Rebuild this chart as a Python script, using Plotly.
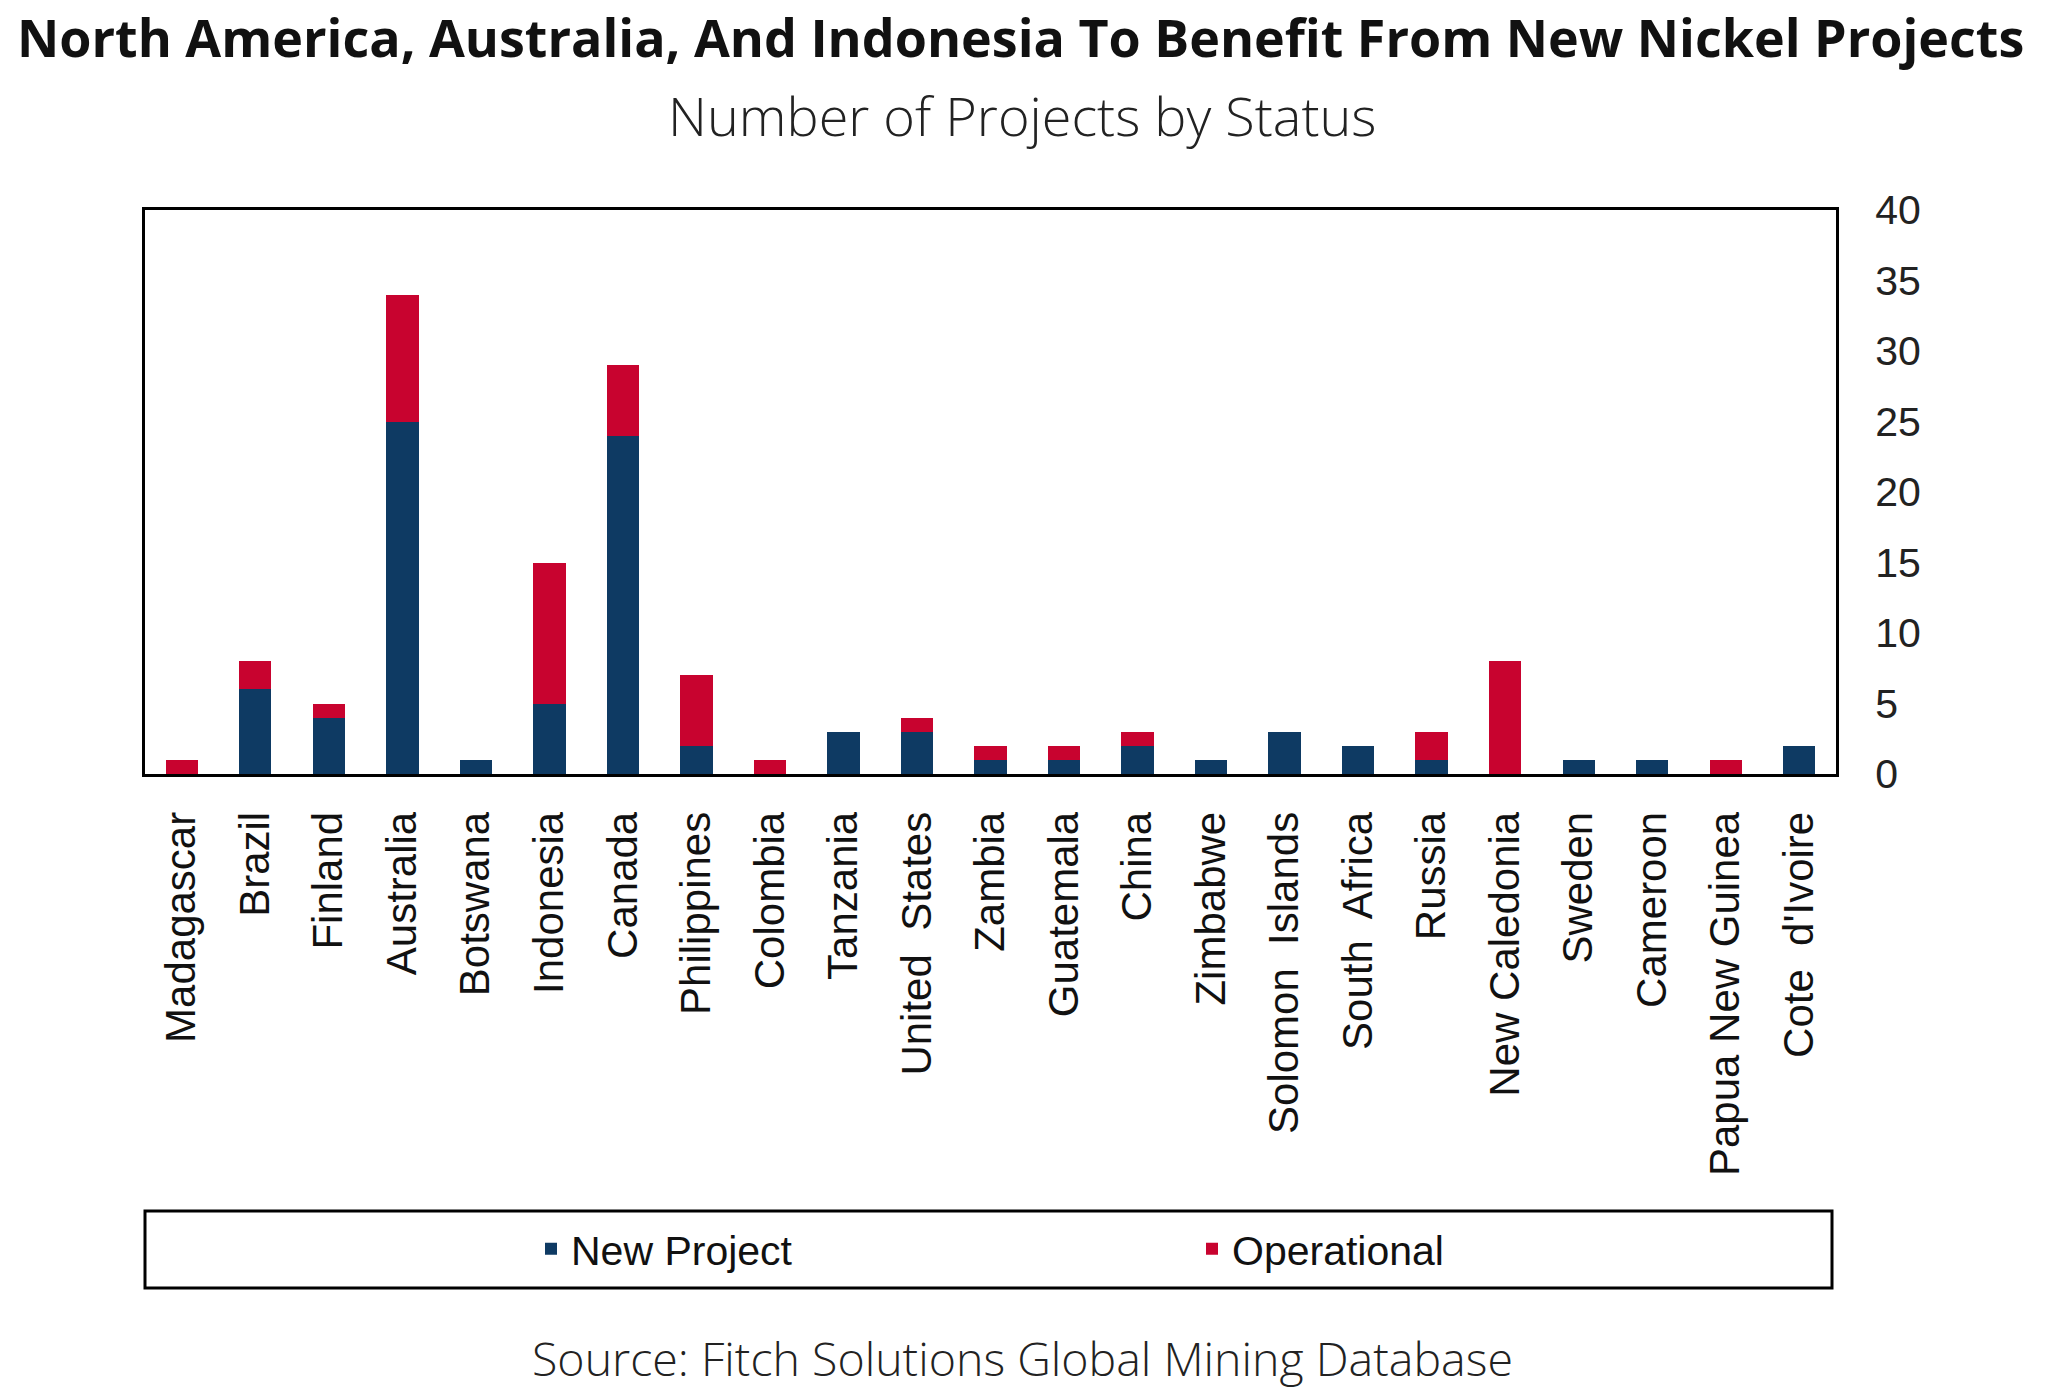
"""
Nickel projects by country and status - stacked bar chart
"""

import plotly.graph_objects as go

# Data
countries = [
    "Madagascar", "Brazil", "Finland", "Australia", "Botswana", "Indonesia",
    "Canada", "Philippines", "Colombia", "Tanzania", "United  States", "Zambia",
    "Guatemala", "China", "Zimbabwe", "Solomon  Islands", "South  Africa",
    "Russia", "New Caledonia", "Sweden", "Cameroon", "Papua New Guinea",
    "Cote  d'Ivoire",
]
new_project = [0, 6, 4, 25, 1, 5, 24, 2, 0, 3, 3, 1, 1, 2, 1, 3, 2, 1, 0, 1, 1, 0, 2]
operational = [1, 2, 1, 9, 0, 10, 5, 5, 1, 0, 1, 1, 1, 1, 0, 0, 0, 2, 8, 0, 0, 1, 0]
y_ticks = [0, 5, 10, 15, 20, 25, 30, 35, 40]

NAVY = "#0E3A63"
RED = "#C8032F"
ARIAL = "Liberation Sans, Arial, sans-serif"
OPEN = "Open Sans, sans-serif"

# plot area in page pixels (page has an 8px body margin)
L, R, T, B = 137, 1828, 202, 766


def px(x):
    return (x - 8 - L) / (R - L)


def py(y):
    return (B - (y - 8)) / (B - T)


fig = go.Figure()
fig.add_trace(go.Bar(x=countries, y=new_project, name="New Project",
                     marker=dict(color=NAVY, line=dict(width=0))))
fig.add_trace(go.Bar(x=countries, y=operational, name="Operational",
                     marker=dict(color=RED, line=dict(width=0))))

fig.update_layout(
    width=2048, height=1392,
    barmode="stack", bargap=0.56,
    paper_bgcolor="white", plot_bgcolor="white",
    margin=dict(l=L, r=2048 - R, t=T, b=1392 - B),
    legend=dict(
        orientation="h", x=px(531), xanchor="left", y=py(1249), yanchor="middle",
        entrywidth=616, entrywidthmode="pixels",
        font=dict(family=ARIAL, size=41, color="#111"),
        bgcolor="rgba(0,0,0,0)", traceorder="normal",
    ),
    showlegend=True,
)

fig.update_xaxes(
    tickangle=-90, showline=True, linecolor="black", linewidth=3, mirror=True,
    showgrid=False, ticks="outside", ticklen=18, tickcolor="rgba(0,0,0,0)",
    tickfont=dict(family=ARIAL, size=42, color="#111"),
)
fig.update_yaxes(
    side="right", range=[0, 40], tickvals=y_ticks,
    showline=True, linecolor="black", linewidth=3, mirror=True,
    showgrid=False, zeroline=False, ticks="outside", ticklen=28,
    tickcolor="rgba(0,0,0,0)",
    tickfont=dict(family=ARIAL, size=41, color="#222"),
)

# Title, subtitle and source
fig.add_annotation(
    text="North America, Australia, And Indonesia To Benefit From New Nickel Projects",
    xref="paper", yref="paper", x=px(1020), y=py(37), showarrow=False,
    xanchor="center", yanchor="middle",
    font=dict(family=OPEN, size=52, color="#111", weight=700))
fig.add_annotation(text="Number of Projects by Status", xref="paper", yref="paper",
                   x=px(1022), y=py(115), showarrow=False,
                   xanchor="center", yanchor="middle",
                   font=dict(family=OPEN, size=54, color="#222", weight=300))
fig.add_annotation(text="Source: Fitch Solutions Global Mining Database",
                   xref="paper", yref="paper",
                   x=px(1022), y=py(1358), showarrow=False,
                   xanchor="center", yanchor="middle",
                   font=dict(family=OPEN, size=46.5, color="#222", weight=300))

# Legend frame
fig.add_shape(type="rect", xref="paper", yref="paper",
              x0=px(145), x1=px(1832), y0=py(1288), y1=py(1211),
              line=dict(color="black", width=3), fillcolor="rgba(0,0,0,0)")

fig.write_html("out.html")
